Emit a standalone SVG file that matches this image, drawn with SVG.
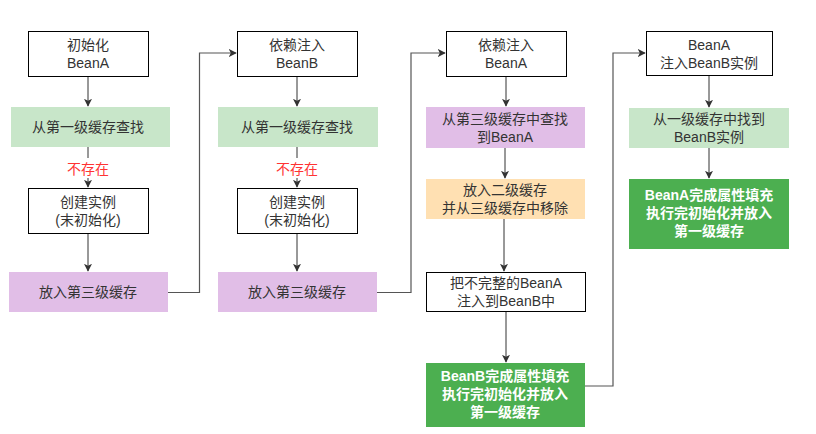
<svg xmlns="http://www.w3.org/2000/svg" width="816" height="434" viewBox="0 0 816 434">
<defs>
<marker id="ah" viewBox="0 0 10 10" refX="9" refY="5" markerWidth="8" markerHeight="8" markerUnits="userSpaceOnUse" orient="auto">
<path d="M0,0 L10,5 L0,10 L2.5,5 Z" fill="#333"/>
</marker>
<style>
text{font-family:"Liberation Sans","Noto Sans CJK SC",sans-serif;font-size:14px;fill:#333;text-anchor:middle;}
.w{fill:#fff;stroke:#000;stroke-width:1;}
.g{fill:#c8e6c9;}
.p{fill:#e1bee7;}
.o{fill:#ffe0b2;}
.d{fill:#4caf50;}
.dt{fill:#fff;font-weight:bold;}
.red{fill:#ff3333;}
.c{fill:none;stroke:#333;stroke-width:1;marker-end:url(#ah);}
.l{fill:none;stroke:#333;stroke-width:1;}
.c2{fill:none;stroke:#555;stroke-width:1.2;marker-end:url(#ah);}
</style>
</defs>
<rect width="816" height="434" fill="#fff"/>
<g id="connectors">
<path class="c" d="M88,76 V106"/>
<path class="l" d="M88,147 V158"/>
<path class="c" d="M88,178 V187"/>
<path class="c" d="M88,233 V271"/>
<path class="c2" d="M168,292.5 H199.5 V53 H236"/>
<path class="c" d="M297,76 V106"/>
<path class="l" d="M297,147 V158"/>
<path class="c" d="M297,178 V187"/>
<path class="c" d="M297,233 V271"/>
<path class="c2" d="M377,292.5 H411 V53 H445"/>
<path class="c" d="M506,76 V106"/>
<path class="c" d="M505,148 V178"/>
<path class="c" d="M504,219 V271"/>
<path class="c" d="M506,311 V362"/>
<path class="c2" d="M585,386 H613 V53 H645"/>
<path class="c" d="M709,76 V107"/>
<path class="c" d="M709,148 V178"/>
<text class="red" x="88" y="174">不存在</text>
<text class="red" x="297" y="174">不存在</text>
</g>
<g id="n1"><rect class="w" x="28.5" y="31.5" width="120" height="45"/><text x="88" y="50">初始化</text><text x="88" y="68">BeanA</text></g>
<g id="n2"><rect class="g" x="11" y="107" width="159" height="40"/><text x="88" y="132">从第一级缓存查找</text></g>
<g id="n3"><rect class="w" x="28.5" y="188.5" width="120" height="45"/><text x="88" y="207">创建实例</text><text x="88" y="225">(末初始化)</text></g>
<g id="n4"><rect class="p" x="9" y="272" width="159" height="40"/><text x="88" y="297">放入第三级缓存</text></g>
<g id="n5"><rect class="w" x="237.5" y="31.5" width="120" height="45"/><text x="297" y="50">依赖注入</text><text x="297" y="68">BeanB</text></g>
<g id="n6"><rect class="g" x="218" y="107" width="160" height="40"/><text x="297" y="132">从第一级缓存查找</text></g>
<g id="n7"><rect class="w" x="237.5" y="188.5" width="120" height="45"/><text x="297" y="207">创建实例</text><text x="297" y="225">(末初始化)</text></g>
<g id="n8"><rect class="p" x="218" y="272" width="159" height="40"/><text x="297" y="297">放入第三级缓存</text></g>
<g id="n9"><rect class="w" x="446.5" y="31.5" width="120" height="45"/><text x="506" y="50">依赖注入</text><text x="506" y="68">BeanA</text></g>
<g id="n10"><rect class="p" x="426" y="107" width="159" height="41"/><text x="505" y="124">从第三级缓存中查找</text><text x="505" y="142">到BeanA</text></g>
<g id="n11"><rect class="o" x="426" y="179" width="159" height="40"/><text x="505" y="195">放入二级缓存</text><text x="505" y="213">并从三级缓存中移除</text></g>
<g id="n12"><rect class="w" x="426.5" y="272.5" width="159" height="39"/><text x="506" y="288">把不完整的BeanA</text><text x="506" y="306">注入到BeanB中</text></g>
<g id="n13"><rect class="d" x="426" y="363" width="159" height="64"/><text class="dt" x="505" y="381">BeanB完成属性填充</text><text class="dt" x="505" y="399">执行完初始化并放入</text><text class="dt" x="505" y="417">第一级缓存</text></g>
<g id="n14"><rect class="w" x="646.5" y="31.5" width="126" height="44"/><text x="709" y="50">BeanA</text><text x="709" y="68">注入BeanB实例</text></g>
<g id="n15"><rect class="g" x="629" y="108" width="160" height="40"/><text x="709" y="124">从一级缓存中找到</text><text x="709" y="142">BeanB实例</text></g>
<g id="n16"><rect class="d" x="629" y="179" width="160" height="70"/><text class="dt" x="709" y="200">BeanA完成属性填充</text><text class="dt" x="709" y="218">执行完初始化并放入</text><text class="dt" x="709" y="236">第一级缓存</text></g>
</svg>
